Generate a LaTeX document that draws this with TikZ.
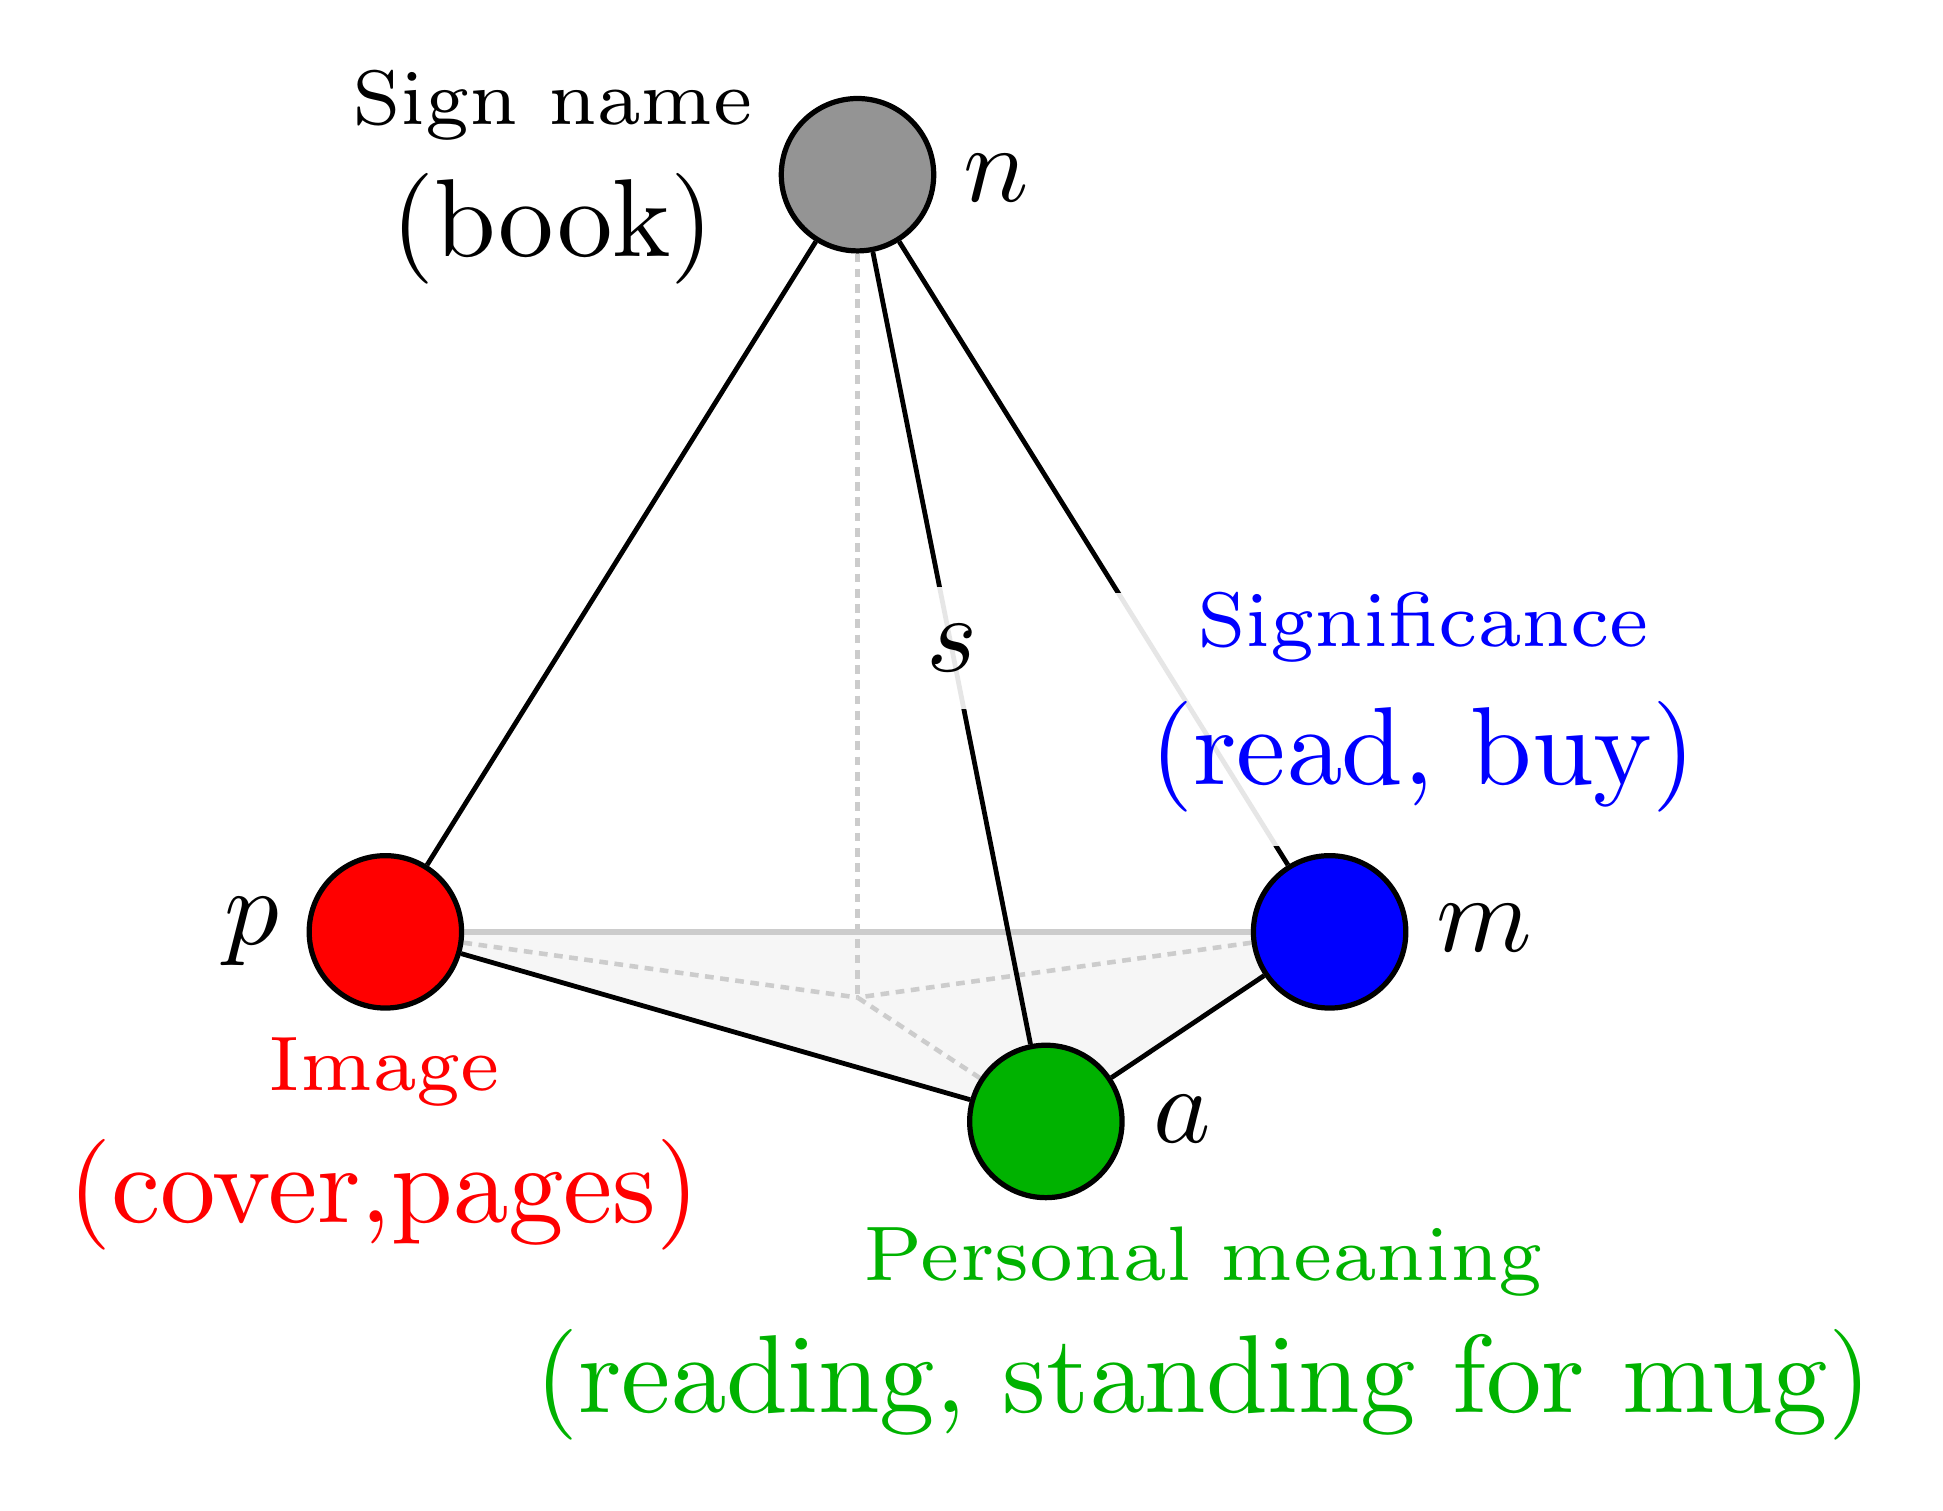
\documentclass[tikz,border=0pt]{standalone}
\usetikzlibrary{backgrounds}
\font\lblsmall=cmr7 at 17.75pt
\font\lblbig=cmr10 at 25.45pt
\font\lblmath=cmmi10 at 25pt
\definecolor{ngray}{RGB}{148,148,148}
\definecolor{agreen}{RGB}{0,178,0}
\definecolor{hid}{RGB}{204,204,204}
\definecolor{basefill}{RGB}{246,246,246}
\tikzset{
  vertex/.style={circle, draw=black, line width=1.2pt, minimum size=1.23cm, inner sep=0pt},
  edgeline/.style={line width=1.1pt, draw=black},
  hiddenline/.style={line width=1.05pt, draw=hid, dash pattern=on 2pt off 1.5pt},
  backline/.style={line width=1.25pt, draw=hid},
  lbl/.style={align=center, inner sep=0pt, font={\baselineskip=30.2pt}},
  mathlbl/.style={inner sep=0pt, anchor=base, font=\lblmath},
}
\begin{document}
\begin{tikzpicture}[x=1cm,y=1cm]
\useasboundingbox (0,0) rectangle (15.68,-12.19);
\coordinate (c) at (6.92,-8.05);
\coordinate (pc) at (3.11,-7.52);
\coordinate (mc) at (10.73,-7.52);
\coordinate (ac) at (8.44,-9.05);
\node[vertex, fill=ngray] (n) at (6.92,-1.41) {};
\node[vertex, fill=red] (p) at (pc) {};
\node[vertex, fill=blue] (m) at (mc) {};
\node[vertex, fill=agreen] (a) at (ac) {};
\begin{scope}[on background layer]
  \fill[basefill] (pc) -- (mc) -- (ac) -- cycle;
  \draw[hiddenline] (n) -- (c);
  \draw[hiddenline] (p) -- (c);
  \draw[hiddenline] (m) -- (c);
  \draw[hiddenline] (a) -- (c);
  \draw[backline] (p) -- (m);
\end{scope}
\draw[edgeline] (p) -- (a);
\draw[edgeline] (a) -- (m);
\draw[edgeline] (n) -- (p);
\draw[edgeline] (n) -- (m);
\draw[edgeline] (n) -- (a) node[pos=0.5, inner sep=8.7pt, fill=white, fill opacity=0.9, text opacity=1, font=\lblmath] (s) {s};
\node[mathlbl] (nl) at (8.04,-1.63) {n};
\node[mathlbl] (pl) at (2.03,-7.62) {p};
\node[mathlbl] (ml) at (11.98,-7.68) {m};
\node[mathlbl] (al) at (9.54,-9.22) {a};
\node[lbl] (signlbl) at (4.46,-1.435) {{\lblsmall Sign name}\\{\lblbig (book)}};
\node[lbl, text=red] (imglbl) at (3.10,-9.23) {{\lblsmall Image}\\{\lblbig (cover,pages)}};
\node[lbl, text=agreen] (perslbl) at (9.715,-10.76) {{\lblsmall Personal meaning}\\{\lblbig (reading, standing for mug)}};
\node[lbl, text=blue, anchor=north, inner xsep=14pt, fill=white, fill opacity=0.9, text opacity=1, font={\baselineskip=31.5pt}] (siglbl) at (11.485,-4.78) {{\lblsmall Significance}\\{\lblbig (read, buy)\rule[-14.2pt]{0pt}{14.2pt}}};
\end{tikzpicture}
\end{document}
